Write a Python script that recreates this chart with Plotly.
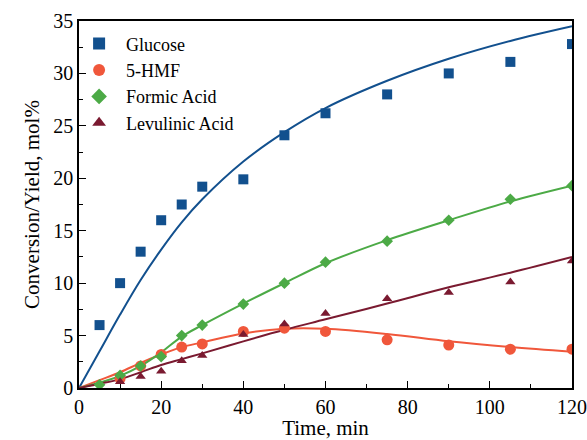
import plotly.graph_objects as go

# Measured data
t_pts = [5, 10, 15, 20, 25, 30, 40, 50, 60, 75, 90, 105, 120]
glucose = [6.0, 10.0, 13.0, 16.0, 17.5, 19.2, 19.9, 24.1, 26.2, 28.0, 30.0, 31.1, 32.8]
t_hmf = [10, 15, 20, 25, 30, 40, 50, 60, 75, 90, 105, 120]
hmf = [0.9, 2.1, 3.2, 3.9, 4.2, 5.4, 5.7, 5.4, 4.6, 4.1, 3.7, 3.7]
formic = [0.3, 1.2, 2.1, 3.0, 5.0, 6.0, 8.0, 10.0, 12.0, 14.0, 16.0, 18.0, 19.3]
levulinic = [None, 0.6, 1.1, 1.6, 2.6, 3.1, 5.1, 6.1, 7.1, 8.5, 9.1, 10.1, 12.1]

# Model curves
t_fit = [0, 5, 10, 15, 20, 25, 30, 40, 50, 60, 75, 90, 105, 120]
glucose_fit = [0, 3.5, 7.0, 10.3, 13.2, 15.8, 18.0, 21.6, 24.4, 26.7, 29.3, 31.4, 33.1, 34.5]
hmf_fit = [0, 0.75, 1.5, 2.4, 3.2, 3.9, 4.35, 5.2, 5.65, 5.65, 5.15, 4.45, 3.9, 3.45]
formic_fit = [0, 0.5, 1.15, 2.1, 3.4, 4.9, 6.0, 8.05, 10.0, 11.9, 14.1, 16.0, 17.8, 19.3]
levulinic_fit = [0, 0.4, 0.85, 1.5, 2.2, 2.75, 3.3, 4.45, 5.55, 6.55, 8.05, 9.6, 11.0, 12.5]

names = ["Glucose", "5-HMF", "Formic Acid", "Levulinic Acid"]
colors = ["#12508e", "#f0573b", "#4caa46", "#7a1a30"]
symbols = ["square", "circle", "diamond", "triangle-up"]
sizes = [10, 11, 9, 9]

fig = go.Figure()
fits = [glucose_fit, hmf_fit, formic_fit, levulinic_fit]
for f, c in zip(fits, colors):
    fig.add_trace(go.Scatter(x=t_fit, y=f, mode="lines", line=dict(color=c, width=2, shape="spline"),
                             showlegend=False, hoverinfo="skip"))

pts = [(t_pts, glucose), (t_hmf, hmf), (t_pts, formic), (t_pts, levulinic)]
for (xs, ys), n, c, s, sz in zip(pts, names, colors, symbols, sizes):
    fig.add_trace(go.Scatter(x=xs, y=ys, mode="markers", name=n,
                             marker=dict(color=c, symbol=s, size=sz, line=dict(width=0))))

font = "Liberation Serif, Times New Roman, serif"
axis_common = dict(showline=True, linecolor="black", linewidth=1.5, mirror=True,
                   ticks="inside", ticklen=7, tickwidth=1, tickcolor="black",
                   showgrid=False, zeroline=False, automargin=False,
                   tickfont=dict(family=font, size=20, color="black"))
fig.update_xaxes(range=[0, 120], dtick=20, tick0=0,
                 minor=dict(ticks="inside", ticklen=4, dtick=10, tickcolor="black"),
                 title=dict(text="Time, min", font=dict(family=font, size=21, color="black"), standoff=2),
                 **axis_common)
fig.update_yaxes(range=[0, 35], dtick=5, tick0=0,
                 minor=dict(ticks="inside", ticklen=4, dtick=2.5, tickcolor="black"),
                 title=dict(text="Conversion/Yield, mol%", font=dict(family=font, size=21, color="black"), standoff=8),
                 **axis_common)
fig.update_layout(
    width=587, height=440,
    margin=dict(l=79, r=15, t=21, b=52),
    plot_bgcolor="white", paper_bgcolor="white",
    legend=dict(x=-0.014, y=0.988, xanchor="left", yanchor="top",
                font=dict(family=font, size=18, color="black"),
                bgcolor="rgba(0,0,0,0)", tracegroupgap=0, itemsizing="constant",
                itemwidth=44),
)
fig.write_html("out.html", config={"displayModeBar": False},
               post_script="document.body.style.margin='0';document.body.style.overflow='hidden';")
